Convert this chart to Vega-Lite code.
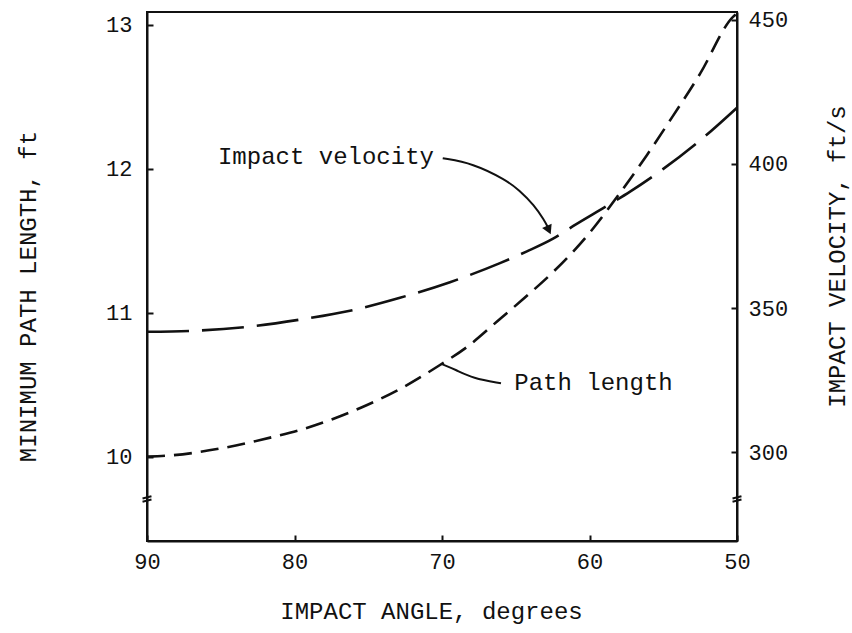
{
  "$schema": "https://vega.github.io/schema/vega-lite/v6.json",
  "width": 590,
  "height": 529,
  "autosize": {"type": "none"},
  "padding": {"left": 147, "top": 12, "right": 115, "bottom": 92},
  "background": "white",
  "config": {
    "view": {"stroke": "#111", "strokeWidth": 2},
    "axis": {
      "grid": false,
      "domainColor": "#111",
      "domainWidth": 2,
      "tickColor": "#111",
      "tickWidth": 2,
      "tickSize": -6,
      "labelFlush": false,
      "labelOverlap": false,
      "labelFont": "Liberation Mono",
      "labelFontSize": 22,
      "labelColor": "#111",
      "titleFont": "Liberation Mono",
      "titleFontSize": 24,
      "titleFontWeight": "normal",
      "titleColor": "#111"
    }
  },
  "datasets": {
    "path": [
      {"a": 90, "p": 10.0},
      {"a": 88.24, "p": 10.01},
      {"a": 84.85, "p": 10.06},
      {"a": 81.46, "p": 10.137},
      {"a": 79.63, "p": 10.185},
      {"a": 77.39, "p": 10.262},
      {"a": 75.08, "p": 10.359},
      {"a": 72.85, "p": 10.47},
      {"a": 70.14, "p": 10.637},
      {"a": 68.31, "p": 10.762},
      {"a": 66.07, "p": 10.957},
      {"a": 64.03, "p": 11.137},
      {"a": 62.47, "p": 11.283},
      {"a": 60.17, "p": 11.534},
      {"a": 57.93, "p": 11.833},
      {"a": 56.1, "p": 12.097},
      {"a": 54.68, "p": 12.315},
      {"a": 52.51, "p": 12.66},
      {"a": 50.27, "p": 13.056},
      {"a": 50, "p": 13.08}
    ],
    "velocity": [
      {"a": 90, "v": 341.8},
      {"a": 87.08, "v": 342.1},
      {"a": 83.02, "v": 343.6},
      {"a": 79.42, "v": 346.2},
      {"a": 76.24, "v": 349.1},
      {"a": 72.85, "v": 353.6},
      {"a": 69.46, "v": 359.0},
      {"a": 66.07, "v": 365.6},
      {"a": 64.24, "v": 369.7},
      {"a": 62.47, "v": 374.1},
      {"a": 61.12, "v": 378.4},
      {"a": 58.41, "v": 386.7},
      {"a": 57.25, "v": 390.4},
      {"a": 55.02, "v": 398.2},
      {"a": 52.17, "v": 409.6},
      {"a": 50, "v": 419.5}
    ],
    "arrows": [
      {"id": "velocity", "k": 1, "a": 69.95, "p": 12.074},
      {"id": "velocity", "k": 2, "a": 67.92, "p": 12.039},
      {"id": "velocity", "k": 3, "a": 65.66, "p": 11.923},
      {"id": "velocity", "k": 4, "a": 64.76, "p": 11.852},
      {"id": "velocity", "k": 5, "a": 63.75, "p": 11.748},
      {"id": "velocity", "k": 6, "a": 63.08, "p": 11.645},
      {"id": "velocity", "k": 7, "a": 62.8, "p": 11.59},
      {"id": "path", "k": 1, "a": 70.05, "p": 10.645},
      {"id": "path", "k": 2, "a": 69.05, "p": 10.603},
      {"id": "path", "k": 3, "a": 67.92, "p": 10.545},
      {"id": "path", "k": 4, "a": 66.0, "p": 10.51}
    ],
    "heads": [
      {"a": 62.76, "p": 11.575}
    ],
    "labels": [
      {"a": 85.19, "p": 12.084, "text": "Impact velocity"},
      {"a": 65.1, "p": 10.514, "text": "Path length"}
    ],
    "breaks": [
      {"a": 90, "p": 9.706},
      {"a": 50, "p": 9.706}
    ]
  },
  "layer": [
    {
      "layer": [
        {
          "data": {"name": "path"},
          "mark": {"type": "line", "color": "#111", "strokeWidth": 2.6, "strokeDash": [18, 9], "interpolate": "monotone", "strokeCap": "butt"},
          "encoding": {
            "x": {
              "field": "a", "type": "quantitative", "title": "IMPACT ANGLE, degrees",
              "scale": {"domain": [50, 90], "reverse": true, "nice": false, "zero": false},
              "axis": {"values": [50, 60, 70, 80, 90], "labelPadding": 16, "titleX": 284, "titleY": 77, "titleBaseline": "alphabetic", "titleAnchor": "middle"}
            },
            "y": {
              "field": "p", "type": "quantitative", "title": "MINIMUM PATH LENGTH, ft",
              "scale": {"domain": [9.414, 13.09], "nice": false, "zero": false},
              "axis": {"orient": "left", "values": [10, 11, 12, 13], "labelPadding": 21, "titleAngle": -90, "titleX": -112, "titleY": 284, "titleBaseline": "alphabetic", "titleAlign": "center"}
            }
          }
        },
        {
          "data": {"name": "arrows"},
          "mark": {"type": "line", "color": "#111", "strokeWidth": 2, "interpolate": "basis"},
          "encoding": {
            "x": {
              "field": "a", "type": "quantitative", "title": "IMPACT ANGLE, degrees",
              "scale": {"domain": [50, 90], "reverse": true, "nice": false, "zero": false},
              "axis": {"values": [50, 60, 70, 80, 90], "labelPadding": 16, "titleX": 284, "titleY": 77, "titleBaseline": "alphabetic", "titleAnchor": "middle"}
            },
            "y": {
              "field": "p", "type": "quantitative", "title": "MINIMUM PATH LENGTH, ft",
              "scale": {"domain": [9.414, 13.09], "nice": false, "zero": false},
              "axis": {"orient": "left", "values": [10, 11, 12, 13], "labelPadding": 21, "titleAngle": -90, "titleX": -112, "titleY": 284, "titleBaseline": "alphabetic", "titleAlign": "center"}
            },
            "detail": {"field": "id"},
            "order": {"field": "k", "type": "quantitative"}
          }
        },
        {
          "data": {"name": "heads"},
          "mark": {"type": "point", "shape": "triangle-down", "filled": true, "color": "#111", "size": 110, "opacity": 1, "angle": -25},
          "encoding": {
            "x": {
              "field": "a", "type": "quantitative", "title": "IMPACT ANGLE, degrees",
              "scale": {"domain": [50, 90], "reverse": true, "nice": false, "zero": false},
              "axis": {"values": [50, 60, 70, 80, 90], "labelPadding": 16, "titleX": 284, "titleY": 77, "titleBaseline": "alphabetic", "titleAnchor": "middle"}
            },
            "y": {
              "field": "p", "type": "quantitative", "title": "MINIMUM PATH LENGTH, ft",
              "scale": {"domain": [9.414, 13.09], "nice": false, "zero": false},
              "axis": {"orient": "left", "values": [10, 11, 12, 13], "labelPadding": 21, "titleAngle": -90, "titleX": -112, "titleY": 284, "titleBaseline": "alphabetic", "titleAlign": "center"}
            }
          }
        },
        {
          "data": {"name": "labels"},
          "mark": {"type": "text", "align": "left", "baseline": "middle", "font": "Liberation Mono", "fontSize": 24, "color": "#111"},
          "encoding": {
            "x": {
              "field": "a", "type": "quantitative", "title": "IMPACT ANGLE, degrees",
              "scale": {"domain": [50, 90], "reverse": true, "nice": false, "zero": false},
              "axis": {"values": [50, 60, 70, 80, 90], "labelPadding": 16, "titleX": 284, "titleY": 77, "titleBaseline": "alphabetic", "titleAnchor": "middle"}
            },
            "y": {
              "field": "p", "type": "quantitative", "title": "MINIMUM PATH LENGTH, ft",
              "scale": {"domain": [9.414, 13.09], "nice": false, "zero": false},
              "axis": {"orient": "left", "values": [10, 11, 12, 13], "labelPadding": 21, "titleAngle": -90, "titleX": -112, "titleY": 284, "titleBaseline": "alphabetic", "titleAlign": "center"}
            },
            "text": {"field": "text"}
          }
        },
        {
          "data": {"name": "breaks"},
          "mark": {"type": "point", "shape": "M-1,-0.1L1,-0.6M-1,0.6L1,0.1", "filled": false, "color": "#111", "strokeWidth": 2, "size": 80, "opacity": 1},
          "encoding": {
            "x": {
              "field": "a", "type": "quantitative", "title": "IMPACT ANGLE, degrees",
              "scale": {"domain": [50, 90], "reverse": true, "nice": false, "zero": false},
              "axis": {"values": [50, 60, 70, 80, 90], "labelPadding": 16, "titleX": 284, "titleY": 77, "titleBaseline": "alphabetic", "titleAnchor": "middle"}
            },
            "y": {
              "field": "p", "type": "quantitative", "title": "MINIMUM PATH LENGTH, ft",
              "scale": {"domain": [9.414, 13.09], "nice": false, "zero": false},
              "axis": {"orient": "left", "values": [10, 11, 12, 13], "labelPadding": 21, "titleAngle": -90, "titleX": -112, "titleY": 284, "titleBaseline": "alphabetic", "titleAlign": "center"}
            }
          }
        }
      ]
    },
    {
      "data": {"name": "velocity"},
      "mark": {"type": "line", "color": "#111", "strokeWidth": 2.6, "strokeDash": [42, 13], "interpolate": "monotone", "strokeCap": "butt"},
      "encoding": {
        "x": {
          "field": "a", "type": "quantitative", "title": "IMPACT ANGLE, degrees",
          "scale": {"domain": [50, 90], "reverse": true, "nice": false, "zero": false},
          "axis": {"values": [50, 60, 70, 80, 90], "labelPadding": 16, "titleX": 284, "titleY": 77, "titleBaseline": "alphabetic", "titleAnchor": "middle"}
        },
        "y": {
          "field": "v", "type": "quantitative", "title": "IMPACT VELOCITY, ft/s",
          "scale": {"domain": [269.27, 452.67], "nice": false, "zero": false},
          "axis": {"orient": "right", "values": [300, 350, 400, 450], "labelPadding": 17, "titleAngle": -90, "titleX": 107, "titleY": 244, "titleBaseline": "alphabetic", "titleAlign": "center"}
        }
      }
    }
  ],
  "resolve": {"scale": {"y": "independent"}, "axis": {"y": "independent"}}
}
